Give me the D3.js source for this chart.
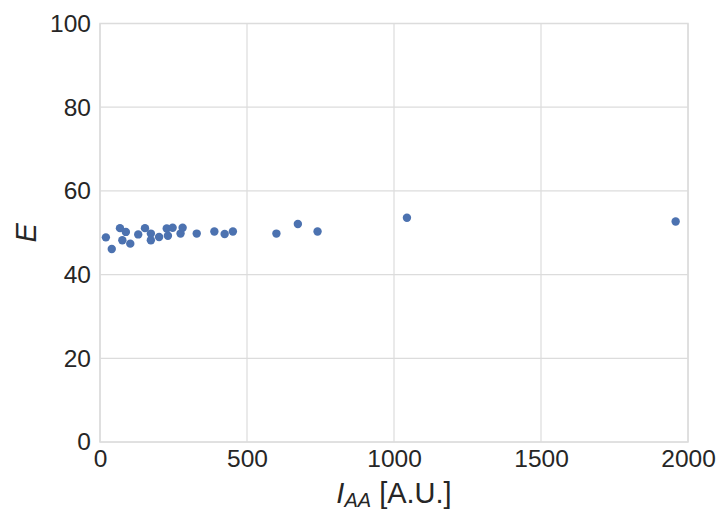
<!DOCTYPE html>
<html>
<head>
<meta charset="utf-8">
<script src="https://cdn.jsdelivr.net/npm/d3@7"></script>
<style>
  html, body { margin: 0; padding: 0; background: #fff; }
  text { font-family: "Liberation Sans", Arial, sans-serif; fill: #262626; }
</style>
</head>
<body>
<svg id="chart" width="721" height="512"></svg>
<script>
// Intensity I_AA (arbitrary units) and E for each sample
const intensity = [20, 40, 68, 76, 88, 103, 130, 153, 173, 173, 201, 227, 231, 247, 274, 281, 329, 389, 424, 452, 600, 673, 740, 1044, 1958];
const eValues   = [48.9, 46.1, 51.1, 48.2, 50.2, 47.4, 49.6, 51.1, 49.8, 48.2, 49.0, 51.0, 49.3, 51.2, 49.8, 51.2, 49.8, 50.3, 49.7, 50.3, 49.8, 52.1, 50.3, 53.6, 52.7];
const xTicks = [0, 500, 1000, 1500, 2000];
const yTicks = [0, 20, 40, 60, 80, 100];

const svg = d3.select("#chart");
const plot = { left: 100, right: 688, top: 23.5, bottom: 442 };

const x = d3.scaleLinear().domain([0, 2000]).range([plot.left, plot.right]);
const y = d3.scaleLinear().domain([0, 100]).range([plot.bottom, plot.top]);

const gridColor = "#dcdcdc";

// gridlines
svg.append("g").selectAll("line").data(xTicks).join("line")
  .attr("x1", d => x(d)).attr("x2", d => x(d))
  .attr("y1", plot.top).attr("y2", plot.bottom)
  .attr("stroke", gridColor).attr("stroke-width", 1.2);
svg.append("g").selectAll("line").data(yTicks).join("line")
  .attr("x1", plot.left).attr("x2", plot.right)
  .attr("y1", d => y(d)).attr("y2", d => y(d))
  .attr("stroke", gridColor).attr("stroke-width", 1.2);

// frame
svg.append("rect")
  .attr("x", plot.left).attr("y", plot.top)
  .attr("width", plot.right - plot.left).attr("height", plot.bottom - plot.top)
  .attr("fill", "none").attr("stroke", gridColor).attr("stroke-width", 1.5);

// axes via d3 axis generators (lines hidden, labels only)
const xAxis = svg.append("g")
  .attr("transform", `translate(0,${plot.bottom})`)
  .call(d3.axisBottom(x).tickValues(xTicks).tickSize(0).tickPadding(8).tickFormat(d3.format("d")));
const yAxis = svg.append("g")
  .attr("transform", `translate(${plot.left},0)`)
  .call(d3.axisLeft(y).tickValues(yTicks).tickSize(0).tickPadding(9).tickFormat(d3.format("d")));
[xAxis, yAxis].forEach(g => {
  g.select(".domain").remove();
  g.selectAll("text")
    .style("font-family", '"Liberation Sans", Arial, sans-serif')
    .style("font-size", "24.5px").attr("fill", "#262626");
});

// scatter points
svg.append("g").selectAll("circle").data(intensity).join("circle")
  .attr("cx", d => x(d))
  .attr("cy", (d, i) => y(eValues[i]))
  .attr("r", 4.2)
  .attr("fill", "#4C72B0");

// axis titles
const xLabel = svg.append("text")
  .attr("x", (plot.left + plot.right) / 2).attr("y", 503)
  .attr("text-anchor", "middle")
  .style("font-size", "29px");
xLabel.append("tspan").style("font-style", "italic").text("I");
xLabel.append("tspan").style("font-style", "italic").style("font-size", "20px")
  .attr("dy", 4).text("AA");
xLabel.append("tspan").attr("dy", -4).text(" [A.U.]");

svg.append("text")
  .attr("transform", `translate(36,${(plot.top + plot.bottom) / 2}) rotate(-90)`)
  .attr("text-anchor", "middle")
  .style("font-size", "29px").style("font-style", "italic")
  .text("E");
</script>
</body>
</html>
